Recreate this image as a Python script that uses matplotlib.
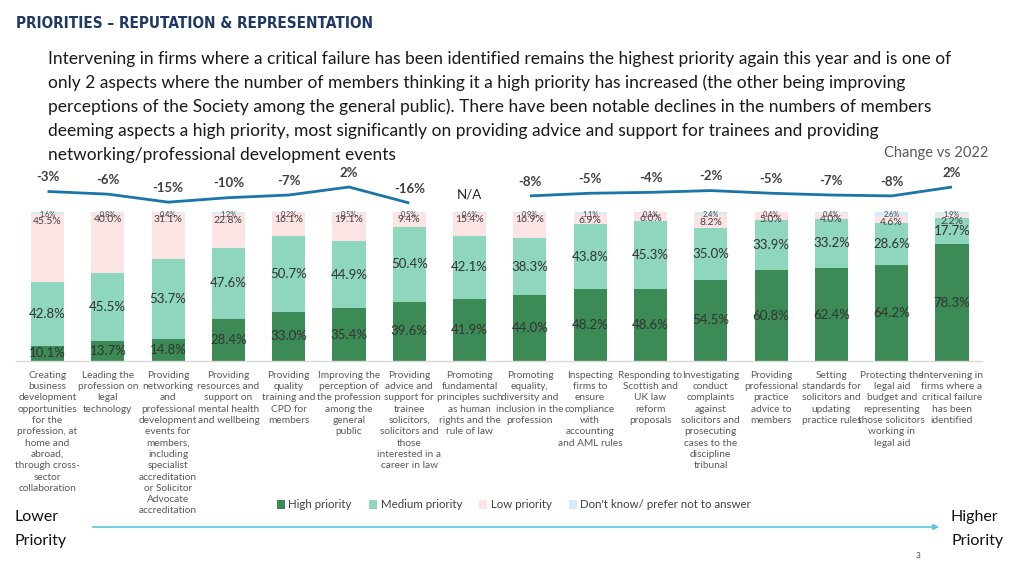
import matplotlib
matplotlib.use("Agg")
import matplotlib.pyplot as plt
import numpy as np
from matplotlib.patches import Patch
from matplotlib import font_manager

categories = [
    "Creating\nbusiness\ndevelopment\nopportunities\nfor the\nprofession, at\nhome and\nabroad,\nthrough cross-\nsector\ncollaboration",
    "Leading the\nprofession on\nlegal\ntechnology",
    "Providing\nnetworking\nand\nprofessional\ndevelopment\nevents for\nmembers,\nincluding\nspecialist\naccreditation\nor Solicitor\nAdvocate\naccreditation",
    "Providing\nresources and\nsupport on\nmental health\nand wellbeing",
    "Providing\nquality\ntraining and\nCPD for\nmembers",
    "Improving the\nperception of\nthe profession\namong the\ngeneral\npublic",
    "Providing\nadvice and\nsupport for\ntrainee\nsolicitors,\nsolicitors and\nthose\ninterested in a\ncareer in law",
    "Promoting\nfundamental\nprinciples such\nas human\nrights and the\nrule of law",
    "Promoting\nequality,\ndiversity and\ninclusion in the\nprofession",
    "Inspecting\nfirms to\nensure\ncompliance\nwith\naccounting\nand AML rules",
    "Responding to\nScottish and\nUK law\nreform\nproposals",
    "Investigating\nconduct\ncomplaints\nagainst\nsolicitors and\nprosecuting\ncases to the\ndiscipline\ntribunal",
    "Providing\nprofessional\npractice\nadvice to\nmembers",
    "Setting\nstandards for\nsolicitors and\nupdating\npractice rules",
    "Protecting the\nlegal aid\nbudget and\nrepresenting\nthose solicitors\nworking in\nlegal aid",
    "Intervening in\nfirms where a\ncritical failure\nhas been\nidentified",
]

high = [10.1, 13.7, 14.8, 28.4, 33.0, 35.4, 39.6, 41.9, 44.0, 48.2, 48.6, 54.5, 60.8, 62.4, 64.2, 78.3]
medium = [42.8, 45.5, 53.7, 47.6, 50.7, 44.9, 50.4, 42.1, 38.3, 43.8, 45.3, 35.0, 33.9, 33.2, 28.6, 17.7]
low = [45.5, 40.0, 31.1, 22.8, 16.1, 19.1, 9.4, 15.4, 16.9, 6.9, 6.0, 8.2, 5.0, 4.0, 4.6, 2.2]
dontknow = [1.6, 0.8, 0.4, 1.2, 0.2, 0.5, 0.5, 0.6, 0.9, 1.1, 0.1, 2.4, 0.4, 0.4, 2.6, 1.9]
change = [-3, -6, -15, -10, -7, 2, -16, None, -8, -5, -4, -2, -5, -7, -8, 2]

series_names = ["High priority", "Medium priority", "Low priority", "Don't know/ prefer not to answer"]
colors = ["#3c8a55", "#8ed6be", "#fce4e4", "#d6ecf6"]

avail = {f.name for f in font_manager.fontManager.ttflist}
body_font = "Lato" if "Lato" in avail else "DejaVu Sans"
plt.rcParams["font.family"] = [body_font, "DejaVu Sans"]

W, H = 1024, 576
fig = plt.figure(figsize=(W / 100, H / 100), dpi=100)

def fx(px):
    return px / W

def fy(py):
    return 1 - py / H

n = len(categories)
x = np.arange(n)
c0, step = 47.5, 60.3
ax_left_px, ax_right_px = 16, 982
xlim = ((ax_left_px - c0) / step, (ax_right_px - c0) / step)

# Main bar axes
ax = fig.add_axes([fx(ax_left_px), fy(361), fx(ax_right_px - ax_left_px), (361 - 212) / H])
bw = 0.55
bottoms = np.zeros(n)
for vals, col in zip([high, medium, low, dontknow], colors):
    ax.bar(x, vals, bw, bottom=bottoms, color=col, edgecolor="none", zorder=2)
    bottoms = bottoms + np.array(vals)
ax.set_xlim(*xlim)
ax.set_ylim(0, 100)
for s in ["top", "right", "left"]:
    ax.spines[s].set_visible(False)
ax.spines["bottom"].set_color("#d9d9d9")
ax.spines["bottom"].set_linewidth(1.0)
ax.set_yticks([])
ax.set_xticks(x)
ax.set_xticklabels(categories, fontsize=7.3, color="#595959", linespacing=1.33, va="top")
ax.tick_params(axis="x", length=0, pad=7)

for i in range(n):
    h, m, l, d = high[i], medium[i], low[i], dontknow[i]
    ax.text(i, h / 2, f"{h:.1f}%", ha="center", va="center", fontsize=9.5, color="#333333", zorder=3)
    ax.text(i, h + m / 2, f"{m:.1f}%", ha="center", va="center", fontsize=9.5, color="#333333", zorder=3)
    ax.text(i, h + m + l - 1.5, f"{l:.1f}%", ha="center", va="top", fontsize=7.5, color="#404040", zorder=3)
    ax.text(i, 100.5, f"{d:.1f}%", ha="center", va="top", fontsize=5.3, color="#404040", zorder=3)

# Change line axes
cax = fig.add_axes([fx(ax_left_px), fy(212), fx(ax_right_px - ax_left_px), (212 - 160) / H])
cax.set_xlim(*xlim)
cax.set_ylim(-26.1, 32.4)
cax.axis("off")
cvals = np.array([np.nan if c is None else c for c in change], dtype=float)
cax.plot(x, cvals, color="#1b75a8", lw=2.0, solid_capstyle="butt")
for i, c in enumerate(change):
    if c is None:
        cax.text(i, -6, "N/A", ha="center", va="center", fontsize=9.5, color="#262626")
    else:
        cax.annotate(f"{c}%", (i, c), xytext=(0, 10.3), textcoords="offset points",
                     ha="center", va="center", fontsize=9.5, fontweight="bold", color="#404040")

# Title and text
fig.text(fx(16), fy(24), "PRIORITIES \u2013 REPUTATION & REPRESENTATION", fontsize=11,
         family=["DejaVu Sans"], fontstretch="condensed", fontweight="semibold",
         color="#1f3864", va="center", ha="left")
para = [
    "Intervening in firms where a critical failure has been identified remains the highest priority again this year and is one of",
    "only 2 aspects where the number of members thinking it a high priority has increased (the other being improving",
    "perceptions of the Society among the general public). There have been notable declines in the numbers of members",
    "deeming aspects a high priority, most significantly on providing advice and support for trainees and providing",
    "networking/professional development events",
]
for k, line in enumerate(para):
    fig.text(fx(48), fy(59 + k * 24.0), line, fontsize=12.5, color="#1a1a1a", va="center", ha="left")
fig.text(fx(988), fy(153), "Change vs 2022", fontsize=10.5, color="#595959", va="center", ha="right")

# Legend
handles = [Patch(facecolor=c, edgecolor="none") for c in colors]
fig.legend(handles, series_names, loc="center", bbox_to_anchor=(fx(514), fy(505)), ncol=4,
           frameon=False, fontsize=8.3, handlelength=0.7, handleheight=0.7, handletextpad=0.3,
           columnspacing=1.5, labelcolor="#404040")

# Priority arrow
fig.text(fx(15), fy(517), "Lower", fontsize=11.5, color="#111111", va="center", ha="left")
fig.text(fx(15), fy(541), "Priority", fontsize=11.5, color="#111111", va="center", ha="left")
fig.text(fx(950), fy(517), "Higher", fontsize=11.5, color="#111111", va="center", ha="left")
fig.text(fx(1004), fy(541), "Priority", fontsize=11.5, color="#111111", va="center", ha="right")
fig.add_artist(matplotlib.patches.FancyArrowPatch((fx(90), fy(527)), (fx(942), fy(527)),
               transform=fig.transFigure, arrowstyle="-|>", mutation_scale=8,
               color="#5bc6da", lw=1.2))
fig.text(fx(918), fy(556), "3", fontsize=6, color="#404040", va="center", ha="center")

fig.savefig("out.png", dpi=100)
